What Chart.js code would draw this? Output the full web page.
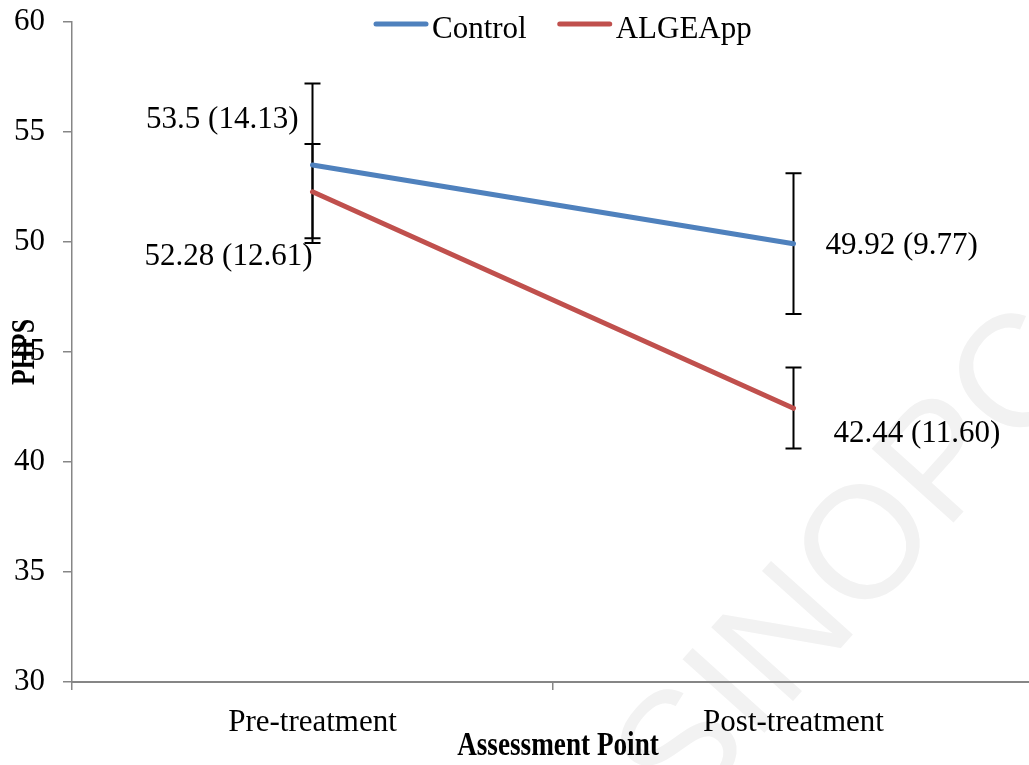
<!DOCTYPE html>
<html>
<head>
<meta charset="utf-8">
<script src="https://cdn.jsdelivr.net/npm/chart.js@4"></script>
<style>
  html, body { margin: 0; padding: 0; background: #ffffff; overflow: hidden; }
  canvas { display: block; }
</style>
</head>
<body>
<canvas id="chart" width="1034" height="765"></canvas>
<script>
// ---- data ----
const categories = ['Pre-treatment', 'Post-treatment'];
const seriesNames = ['Control', 'ALGEApp'];

const controlMeans = [53.5, 49.92];
const controlSDs = [14.13, 9.77];
const controlLow = [49.95, 46.73];
const controlHigh = [57.21, 53.12];

const algeMeans = [52.28, 42.44];
const algeSDs = [12.61, 11.60];
const algeLow = [50.17, 40.61];
const algeHigh = [54.45, 44.30];

const yTicks = [30, 35, 40, 45, 50, 55, 60];
const xTitle = 'Assessment Point';
const yTitle = 'PHPS';
const watermarkText = 'SINOPC';

// ---- styles ----
const SERIF = '"Liberation Serif", "Times New Roman", serif';
const AXIS_GREY = '#868686';
const colors = ['#4F81BD', '#C0504D'];

const series = [
  { means: controlMeans, sds: controlSDs, low: controlLow, high: controlHigh },
  { means: algeMeans, sds: algeSDs, low: algeLow, high: algeHigh }
];

// where each "mean (SD)" label sits relative to its point: [dx, dy, align]
const labelPlacement = [
  [[-14, -37, 'right'], [32, 10, 'left']],
  [[0, 73, 'right'], [40, 34, 'left']]
];

// faint diagonal watermark behind the plot
const watermarkPlugin = {
  id: 'watermark',
  beforeDraw(chart) {
    const ctx = chart.ctx;
    ctx.save();
    ctx.translate(683, 823);
    ctx.rotate(-48 * Math.PI / 180);
    ctx.font = '160px "Liberation Sans", Arial, sans-serif';
    ctx.fillStyle = '#f2f2f2';
    ctx.textAlign = 'left';
    ctx.textBaseline = 'alphabetic';
    ctx.fillText(watermarkText, 0, 0);
    ctx.restore();
  }
};

// vertical error bars with caps, behind the lines
const errorBarPlugin = {
  id: 'errorBars',
  beforeDatasetsDraw(chart) {
    const { ctx, scales: { x, y } } = chart;
    ctx.save();
    ctx.strokeStyle = '#000000';
    ctx.lineWidth = 2;
    series.forEach(s => {
      s.means.forEach((m, i) => {
        const px = x.getPixelForValue(i);
        const yTop = y.getPixelForValue(s.high[i]);
        const yBot = y.getPixelForValue(s.low[i]);
        ctx.beginPath();
        ctx.moveTo(px, yTop); ctx.lineTo(px, yBot);
        ctx.moveTo(px - 8, yTop); ctx.lineTo(px + 8, yTop);
        ctx.moveTo(px - 8, yBot); ctx.lineTo(px + 8, yBot);
        ctx.stroke();
      });
    });
    ctx.restore();
  }
};

// "mean (SD)" value labels
const valueLabelPlugin = {
  id: 'valueLabels',
  afterDatasetsDraw(chart) {
    const { ctx, scales: { x, y } } = chart;
    ctx.save();
    ctx.font = '31px ' + SERIF;
    ctx.fillStyle = '#000000';
    ctx.textBaseline = 'alphabetic';
    series.forEach((s, d) => {
      s.means.forEach((m, i) => {
        const [dx, dy, align] = labelPlacement[d][i];
        ctx.textAlign = align;
        ctx.fillText(`${m} (${s.sds[i].toFixed(2)})`,
          x.getPixelForValue(i) + dx, y.getPixelForValue(m) + dy);
      });
    });
    ctx.restore();
  }
};

// line-sample legend across the top
const legendPlugin = {
  id: 'lineLegend',
  afterDraw(chart) {
    const ctx = chart.ctx;
    ctx.save();
    ctx.font = '31px ' + SERIF;
    ctx.textBaseline = 'alphabetic';
    ctx.textAlign = 'left';
    let cx = 376;
    seriesNames.forEach((name, i) => {
      ctx.strokeStyle = colors[i];
      ctx.lineWidth = 5;
      ctx.lineCap = 'round';
      ctx.beginPath();
      ctx.moveTo(cx, 24); ctx.lineTo(cx + 50, 24);
      ctx.stroke();
      ctx.fillStyle = '#000000';
      ctx.fillText(name, cx + 56, 38);
      cx += 56 + ctx.measureText(name).width + 33;
    });
    ctx.restore();
  }
};

// bold, narrow axis titles
const axisTitlePlugin = {
  id: 'axisTitles',
  afterDraw(chart) {
    const ctx = chart.ctx;
    ctx.save();
    ctx.fillStyle = '#000000';
    ctx.font = 'bold 34px ' + SERIF;
    ctx.textAlign = 'center';

    ctx.save();
    ctx.translate(558, 755);
    ctx.scale(0.8, 1);
    ctx.textBaseline = 'alphabetic';
    ctx.fillText(xTitle, 0, 0);
    ctx.restore();

    ctx.save();
    ctx.translate(25, 352);
    ctx.rotate(-Math.PI / 2);
    ctx.scale(0.76, 1);
    ctx.textBaseline = 'middle';
    ctx.fillText(yTitle, 0, 0);
    ctx.restore();

    ctx.restore();
  }
};

const lineStyle = {
  borderWidth: 5,
  borderCapStyle: 'round',
  pointRadius: 0,
  pointHoverRadius: 0,
  tension: 0,
  fill: false
};

new Chart(document.getElementById('chart'), {
  type: 'line',
  data: {
    labels: categories,
    datasets: series.map((s, i) => Object.assign({
      label: seriesNames[i],
      data: s.means,
      borderColor: colors[i],
      backgroundColor: colors[i]
    }, lineStyle))
  },
  options: {
    responsive: false,
    animation: false,
    events: [],
    layout: { padding: { top: 22, right: 0, bottom: 0, left: 0 } },
    plugins: {
      legend: { display: false },
      tooltip: { enabled: false }
    },
    scales: {
      x: {
        offset: true,
        grid: {
          offset: true,
          drawOnChartArea: false,
          drawTicks: true,
          tickLength: 8,
          color: AXIS_GREY,
          lineWidth: 1.5
        },
        border: { color: AXIS_GREY, width: 2 },
        ticks: {
          font: { family: SERIF, size: 31 },
          color: '#000000',
          padding: 14,
          maxRotation: 0
        },
        afterFit(scale) {
          scale.height = 83;
          scale.paddingLeft = 0;
          scale.paddingRight = 0;
        }
      },
      y: {
        min: 30,
        max: 60,
        afterBuildTicks(scale) { scale.ticks = yTicks.map(v => ({ value: v })); },
        grid: {
          drawOnChartArea: false,
          drawTicks: true,
          tickLength: 9,
          color: AXIS_GREY,
          lineWidth: 1.5
        },
        border: { color: AXIS_GREY, width: 1.5 },
        ticks: {
          font: { family: SERIF, size: 31 },
          color: '#000000',
          padding: 18
        },
        afterFit(scale) {
          scale.width = 72;
          scale.paddingTop = 0;
          scale.paddingBottom = 0;
        }
      }
    }
  },
  plugins: [watermarkPlugin, errorBarPlugin, valueLabelPlugin, legendPlugin, axisTitlePlugin]
});
</script>
</body>
</html>
